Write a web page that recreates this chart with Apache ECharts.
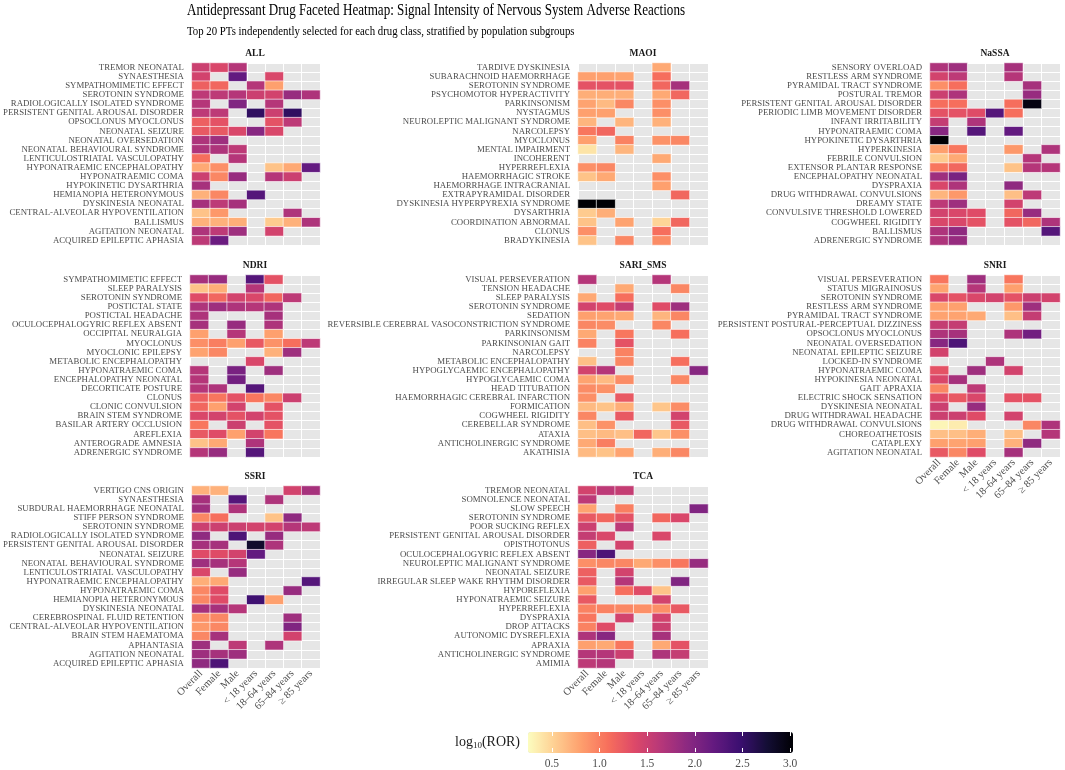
<!DOCTYPE html>
<html>
<head>
<meta charset="utf-8">
<title>Antidepressant Drug Faceted Heatmap</title>
<script src="https://cdn.jsdelivr.net/npm/echarts@6.0.0/dist/echarts.min.js"></script>
<style>
  html, body { margin: 0; padding: 0; background: #fff; }
  #main { width: 1065px; height: 770px; }
</style>
</head>
<body>
<div id="main"></div>
<script>
// 缺失值（灰色格子）
const _ = null;

const groups = ['Overall', 'Female', 'Male', '< 18 years', '18–64 years', '65–84 years', '≥ 85 years'];

const allTerms = ['TREMOR NEONATAL', 'SYNAESTHESIA', 'SYMPATHOMIMETIC EFFECT', 'SEROTONIN SYNDROME', 'RADIOLOGICALLY ISOLATED SYNDROME', 'PERSISTENT GENITAL AROUSAL DISORDER', 'OPSOCLONUS MYOCLONUS', 'NEONATAL SEIZURE', 'NEONATAL OVERSEDATION', 'NEONATAL BEHAVIOURAL SYNDROME', 'LENTICULOSTRIATAL VASCULOPATHY', 'HYPONATRAEMIC ENCEPHALOPATHY', 'HYPONATRAEMIC COMA', 'HYPOKINETIC DYSARTHRIA', 'HEMIANOPIA HETERONYMOUS', 'DYSKINESIA NEONATAL', 'CENTRAL-ALVEOLAR HYPOVENTILATION', 'BALLISMUS', 'AGITATION NEONATAL', 'ACQUIRED EPILEPTIC APHASIA'];
const allValues = [
  [1.5, 1.4, 1.65, _, _, _, _],
  [1.45, _, 2.2, _, 1.4, _, _],
  [1.2, 1.15, _, 1.65, 0.8, _, _],
  [1.6, 1.6, 1.65, 1.5, 1.45, 1.85, 1.7],
  [1.65, _, 2.0, _, 1.65, _, _],
  [1.6, 1.6, _, 2.55, 1.5, 2.55, _],
  [1.2, 1.3, _, _, 1.3, 1.6, _],
  [1.25, 1.25, 1.4, 1.95, 1.4, _, _],
  [1.7, 1.8, _, _, _, _, _],
  [1.7, 1.7, 1.6, _, _, _, _],
  [1.1, _, 1.65, _, _, _, _],
  [0.75, 0.9, _, _, 0.6, 0.75, 2.2],
  [1.5, 0.95, 1.85, _, 1.65, 1.5, _],
  [1.75, _, _, _, _, _, _],
  [0.7, 0.95, _, 2.3, _, _, _],
  [1.75, 1.6, 1.75, _, _, _, _],
  [0.6, 0.85, _, _, _, 1.7, _],
  [0.7, 0.7, 0.72, _, 0.55, 0.7, 1.7],
  [1.7, 1.6, 1.8, _, 1.45, _, _],
  [1.6, 2.15, _, _, _, _, _]
];

const maoiTerms = ['TARDIVE DYSKINESIA', 'SUBARACHNOID HAEMORRHAGE', 'SEROTONIN SYNDROME', 'PSYCHOMOTOR HYPERACTIVITY', 'PARKINSONISM', 'NYSTAGMUS', 'NEUROLEPTIC MALIGNANT SYNDROME', 'NARCOLEPSY', 'MYOCLONUS', 'MENTAL IMPAIRMENT', 'INCOHERENT', 'HYPERREFLEXIA', 'HAEMORRHAGIC STROKE', 'HAEMORRHAGE INTRACRANIAL', 'EXTRAPYRAMIDAL DISORDER', 'DYSKINESIA HYPERPYREXIA SYNDROME', 'DYSARTHRIA', 'COORDINATION ABNORMAL', 'CLONUS', 'BRADYKINESIA'];
const maoiValues = [
  [_, _, _, _, 0.75, _, _],
  [0.8, 0.8, 0.78, _, 1.1, _, _],
  [1.3, 1.3, 1.3, _, 1.15, 1.75, _],
  [0.72, 0.72, 0.72, _, 0.75, 1.15, _],
  [0.78, 0.65, 0.95, _, 0.9, _, _],
  [0.8, 0.8, _, _, 0.9, _, _],
  [0.68, _, 0.68, _, 0.7, _, _],
  [1.05, 1.15, _, _, _, _, _],
  [0.8, _, 0.98, _, 0.88, 0.95, _],
  [0.4, _, 0.68, _, _, _, _],
  [_, _, _, _, 0.75, _, _],
  [0.9, 0.95, _, _, _, _, _],
  [0.6, 0.75, _, _, 0.9, _, _],
  [_, _, _, _, 0.8, _, _],
  [_, _, _, _, _, 1.15, _],
  [3.05, 3.05, _, _, _, _, _],
  [0.55, 0.72, _, _, _, _, _],
  [0.6, _, 0.78, _, 0.5, 1.15, _],
  [0.9, _, _, _, 1.1, _, _],
  [0.6, _, 0.95, _, 0.92, _, _]
];

const nassaTerms = ['SENSORY OVERLOAD', 'RESTLESS ARM SYNDROME', 'PYRAMIDAL TRACT SYNDROME', 'POSTURAL TREMOR', 'PERSISTENT GENITAL AROUSAL DISORDER', 'PERIODIC LIMB MOVEMENT DISORDER', 'INFANT IRRITABILITY', 'HYPONATRAEMIC COMA', 'HYPOKINETIC DYSARTHRIA', 'HYPERKINESIA', 'FEBRILE CONVULSION', 'EXTENSOR PLANTAR RESPONSE', 'ENCEPHALOPATHY NEONATAL', 'DYSPRAXIA', 'DRUG WITHDRAWAL CONVULSIONS', 'DREAMY STATE', 'CONVULSIVE THRESHOLD LOWERED', 'COGWHEEL RIGIDITY', 'BALLISMUS', 'ADRENERGIC SYNDROME'];
const nassaValues = [
  [1.7, 1.8, _, _, 1.75, _, _],
  [1.45, 1.6, _, _, 1.65, _, _],
  [0.9, 1.1, _, _, _, 1.75, _],
  [1.5, 1.7, _, _, _, 1.85, _],
  [1.1, 1.1, _, _, 1.1, 2.95, _],
  [1.3, 1.3, 1.35, 2.3, 1.1, _, _],
  [1.55, _, 1.7, _, _, _, _],
  [1.95, _, 2.3, _, 2.2, _, _],
  [3.05, _, _, _, _, _, _],
  [0.8, 1.05, _, _, 0.85, _, 1.7],
  [0.55, 0.75, _, _, _, 1.65, _],
  [1.05, 1.15, _, _, 0.6, 1.65, 1.65],
  [1.8, 2.05, _, _, _, _, _],
  [1.4, 1.7, _, _, 1.9, _, _],
  [0.68, 0.85, _, _, 0.62, 1.6, _],
  [1.6, 1.8, _, _, 1.45, _, _],
  [1.45, 1.4, 1.35, _, 1.15, 1.85, _],
  [1.4, 1.4, 1.3, _, 1.3, 1.15, 1.7],
  [1.7, 1.9, _, _, _, _, 2.3],
  [1.7, 1.85, _, _, _, _, _]
];

const ndriTerms = ['SYMPATHOMIMETIC EFFECT', 'SLEEP PARALYSIS', 'SEROTONIN SYNDROME', 'POSTICTAL STATE', 'POSTICTAL HEADACHE', 'OCULOCEPHALOGYRIC REFLEX ABSENT', 'OCCIPITAL NEURALGIA', 'MYOCLONUS', 'MYOCLONIC EPILEPSY', 'METABOLIC ENCEPHALOPATHY', 'HYPONATRAEMIC COMA', 'ENCEPHALOPATHY NEONATAL', 'DECORTICATE POSTURE', 'CLONUS', 'CLONIC CONVULSION', 'BRAIN STEM SYNDROME', 'BASILAR ARTERY OCCLUSION', 'AREFLEXIA', 'ANTEROGRADE AMNESIA', 'ADRENERGIC SYNDROME'];
const ndriValues = [
  [1.75, 1.85, _, 2.3, 1.3, _, _],
  [0.6, 0.72, _, 1.65, _, _, _],
  [1.35, 1.15, 1.45, 1.4, 1.15, 1.6, _],
  [1.7, 1.8, 1.7, 1.65, 1.7, _, _],
  [1.7, _, _, _, 1.75, _, _],
  [1.75, _, 1.85, _, 1.7, _, _],
  [0.8, _, 1.65, _, 0.8, _, _],
  [0.9, 1.0, 0.8, 1.25, 0.88, 1.1, 1.6],
  [0.78, 0.95, _, _, 0.7, 1.8, _],
  [_, _, _, 1.4, _, _, _],
  [1.65, _, 2.05, _, 1.8, _, _],
  [1.65, _, 2.1, _, _, _, _],
  [1.65, 1.7, _, 2.3, _, _, _],
  [1.2, 1.05, 1.3, 1.05, 0.95, 1.5, _],
  [1.15, 0.8, 1.45, _, 1.3, _, _],
  [1.4, 1.45, 1.3, 1.45, 1.3, _, _],
  [1.05, _, 1.5, _, 1.3, _, _],
  [1.25, 1.35, 0.8, 1.45, 1.05, _, _],
  [0.6, 0.75, _, 1.7, _, _, _],
  [1.65, 1.85, _, 2.3, _, _, _]
];

const sariTerms = ['VISUAL PERSEVERATION', 'TENSION HEADACHE', 'SLEEP PARALYSIS', 'SEROTONIN SYNDROME', 'SEDATION', 'REVERSIBLE CEREBRAL VASOCONSTRICTION SYNDROME', 'PARKINSONISM', 'PARKINSONIAN GAIT', 'NARCOLEPSY', 'METABOLIC ENCEPHALOPATHY', 'HYPOGLYCAEMIC ENCEPHALOPATHY', 'HYPOGLYCAEMIC COMA', 'HEAD TITUBATION', 'HAEMORRHAGIC CEREBRAL INFARCTION', 'FORMICATION', 'COGWHEEL RIGIDITY', 'CEREBELLAR SYNDROME', 'ATAXIA', 'ANTICHOLINERGIC SYNDROME', 'AKATHISIA'];
const sariValues = [
  [1.65, _, _, _, 1.65, _, _],
  [_, _, 0.75, _, _, 0.95, _],
  [0.75, _, 1.1, _, _, _, _],
  [1.45, 1.35, 1.55, _, 1.35, 1.8, _],
  [0.8, 0.78, 0.75, _, 0.68, 0.95, _],
  [0.95, 0.92, _, _, 0.95, _, _],
  [0.75, _, 1.05, _, _, 1.1, _],
  [0.98, _, 1.3, _, _, _, _],
  [_, _, 0.98, _, _, _, _],
  [0.62, _, 0.95, _, _, 1.1, _],
  [1.45, 1.65, _, _, _, _, 1.95],
  [0.78, 0.65, 0.92, _, _, 0.95, _],
  [0.92, 0.88, _, _, _, _, _],
  [0.9, _, 1.25, _, _, _, _],
  [0.65, 0.6, 0.72, _, 0.58, 0.92, _],
  [0.95, _, 1.25, _, _, 1.45, _],
  [0.62, 0.88, _, _, _, 1.25, _],
  [0.62, 0.65, 0.62, 1.15, 0.58, 0.9, _],
  [0.75, 1.0, _, _, _, _, _],
  [0.65, 0.6, 0.78, _, 0.72, 0.95, _]
];

const snriTerms = ['VISUAL PERSEVERATION', 'STATUS MIGRAINOSUS', 'SEROTONIN SYNDROME', 'RESTLESS ARM SYNDROME', 'PYRAMIDAL TRACT SYNDROME', 'PERSISTENT POSTURAL-PERCEPTUAL DIZZINESS', 'OPSOCLONUS MYOCLONUS', 'NEONATAL OVERSEDATION', 'NEONATAL EPILEPTIC SEIZURE', 'LOCKED-IN SYNDROME', 'HYPONATRAEMIC COMA', 'HYPOKINESIA NEONATAL', 'GAIT APRAXIA', 'ELECTRIC SHOCK SENSATION', 'DYSKINESIA NEONATAL', 'DRUG WITHDRAWAL HEADACHE', 'DRUG WITHDRAWAL CONVULSIONS', 'CHOREOATHETOSIS', 'CATAPLEXY', 'AGITATION NEONATAL'];
const snriValues = [
  [1.05, _, 1.8, _, 1.05, _, _],
  [0.78, _, 1.65, _, 0.8, _, _],
  [1.4, 1.3, 1.4, 1.45, 1.3, 1.5, 1.45],
  [0.8, 0.8, _, _, 0.85, 1.8, _],
  [0.78, 0.78, 0.75, _, 0.62, 1.55, _],
  [1.55, 1.55, _, _, _, _, _],
  [1.7, 1.75, _, _, 1.7, 2.1, _],
  [1.95, 2.35, _, _, _, _, _],
  [1.45, _, _, _, _, _, _],
  [_, _, _, 1.7, _, _, _],
  [1.3, _, 1.8, _, 1.45, _, _],
  [1.4, 1.75, _, _, _, _, _],
  [0.95, _, 1.6, _, _, _, _],
  [1.35, 1.25, 1.4, _, 1.3, 1.3, _],
  [1.5, _, 1.85, _, _, _, _],
  [1.5, 1.5, 1.35, _, 1.45, _, _],
  [0.3, 0.35, _, _, _, 0.95, 1.7],
  [0.62, 0.62, 0.72, _, 0.62, _, 1.65],
  [0.8, 0.78, 0.8, _, 0.7, 1.9, _],
  [1.25, 0.95, 1.35, _, 1.75, _, _]
];

const ssriTerms = ['VERTIGO CNS ORIGIN', 'SYNAESTHESIA', 'SUBDURAL HAEMORRHAGE NEONATAL', 'STIFF PERSON SYNDROME', 'SEROTONIN SYNDROME', 'RADIOLOGICALLY ISOLATED SYNDROME', 'PERSISTENT GENITAL AROUSAL DISORDER', 'NEONATAL SEIZURE', 'NEONATAL BEHAVIOURAL SYNDROME', 'LENTICULOSTRIATAL VASCULOPATHY', 'HYPONATRAEMIC ENCEPHALOPATHY', 'HYPONATRAEMIC COMA', 'HEMIANOPIA HETERONYMOUS', 'DYSKINESIA NEONATAL', 'CEREBROSPINAL FLUID RETENTION', 'CENTRAL-ALVEOLAR HYPOVENTILATION', 'BRAIN STEM HAEMATOMA', 'APHANTASIA', 'AGITATION NEONATAL', 'ACQUIRED EPILEPTIC APHASIA'];
const ssriValues = [
  [0.7, 0.7, _, _, _, 1.45, 1.75],
  [1.75, _, 2.3, _, 1.7, _, _],
  [1.8, _, 1.7, _, _, _, _],
  [0.95, 1.1, _, _, 0.6, 1.9, _],
  [1.5, 1.5, 1.5, 1.45, 1.45, 1.65, 1.6],
  [1.9, _, 2.35, _, 1.85, _, _],
  [1.75, 1.75, _, 2.8, 1.7, _, _],
  [1.35, 1.35, 1.45, 2.2, _, _, _],
  [1.8, 1.75, 1.65, _, _, _, _],
  [1.4, _, 1.85, _, _, _, _],
  [0.72, 0.75, _, _, _, _, 2.3],
  [0.95, 1.35, _, _, _, 1.85, _],
  [0.95, 1.35, _, 2.45, 0.8, _, _],
  [1.75, 1.75, 1.65, _, _, _, _],
  [0.9, 0.95, _, _, _, 1.8, _],
  [0.85, 0.95, _, _, _, 2.0, _],
  [0.95, 1.75, _, _, _, 1.45, _],
  [1.8, _, 1.6, _, 1.7, _, _],
  [1.8, 1.75, 1.8, _, _, _, _],
  [1.9, 2.35, _, _, _, _, _]
];

const tcaTerms = ['TREMOR NEONATAL', 'SOMNOLENCE NEONATAL', 'SLOW SPEECH', 'SEROTONIN SYNDROME', 'POOR SUCKING REFLEX', 'PERSISTENT GENITAL AROUSAL DISORDER', 'OPISTHOTONUS', 'OCULOCEPHALOGYRIC REFLEX ABSENT', 'NEUROLEPTIC MALIGNANT SYNDROME', 'NEONATAL SEIZURE', 'IRREGULAR SLEEP WAKE RHYTHM DISORDER', 'HYPOREFLEXIA', 'HYPONATRAEMIC SEIZURE', 'HYPERREFLEXIA', 'DYSPRAXIA', 'DROP ATTACKS', 'AUTONOMIC DYSREFLEXIA', 'APRAXIA', 'ANTICHOLINERGIC SYNDROME', 'AMIMIA'];
const tcaValues = [
  [1.45, 1.6, 1.55, _, _, _, _],
  [1.6, _, _, _, _, _, _],
  [0.78, _, 1.0, _, _, _, 2.0],
  [1.25, 1.15, 1.3, _, 1.15, 1.4, _],
  [1.5, _, 1.6, _, _, _, _],
  [1.55, 1.4, _, _, 1.4, _, _],
  [1.2, _, 1.45, _, _, _, _],
  [1.95, 2.35, _, _, _, _, _],
  [0.9, 0.95, 0.95, 0.75, 0.9, 1.05, 1.85],
  [1.2, _, 1.45, _, _, _, _],
  [1.25, _, 1.65, _, _, 2.0, _],
  [0.8, _, 1.1, 1.35, 0.6, _, _],
  [1.25, _, _, _, 1.45, _, _],
  [0.98, 0.98, 0.95, 0.9, 0.9, 1.25, _],
  [1.05, _, 1.45, _, 1.45, _, _],
  [0.98, 1.35, _, _, 1.5, _, _],
  [1.7, 1.95, _, _, 1.75, _, _],
  [0.8, 0.75, 1.05, _, 0.75, 1.3, _],
  [1.65, 1.65, 1.5, _, 1.7, 1.55, _],
  [1.6, 1.65, _, _, _, _, _]
];

// 色带刻度
const legendTicks = [0.5, 1.0, 1.5, 2.0, 2.5, 3.0];
const rorMin = 0.25;
const rorMax = 3.03;

// magma（反向）
const magmaRev = ['#fcfdbf', '#fecf92', '#fe9f6d', '#f7705c', '#de4968', '#b73779', '#8c2981', '#641a80', '#3b0f70', '#140e36', '#000004'];

const serif = '"Liberation Serif", "DejaVu Serif", serif';

// 分面顺序与位置
const panels = [
  { name: 'ALL', terms: allTerms, values: allValues, col: 0, row: 0, xLabel: false },
  { name: 'MAOI', terms: maoiTerms, values: maoiValues, col: 1, row: 0, xLabel: false },
  { name: 'NaSSA', terms: nassaTerms, values: nassaValues, col: 2, row: 0, xLabel: false },
  { name: 'NDRI', terms: ndriTerms, values: ndriValues, col: 0, row: 1, xLabel: false },
  { name: 'SARI_SMS', terms: sariTerms, values: sariValues, col: 1, row: 1, xLabel: false },
  { name: 'SNRI', terms: snriTerms, values: snriValues, col: 2, row: 1, xLabel: true },
  { name: 'SSRI', terms: ssriTerms, values: ssriValues, col: 0, row: 2, xLabel: true },
  { name: 'TCA', terms: tcaTerms, values: tcaValues, col: 1, row: 2, xLabel: true }
];
const colLeft = [190, 578, 930];
const rowTop = [63, 275, 486];
const cellW = 130;
const cellH = 182;

var grid = [];
var xAxis = [];
var yAxis = [];
var series = [];
var graphic = [];

panels.forEach(function (p, i) {
  let left = colLeft[p.col];
  let top = rowTop[p.row];
  grid.push({
    left: left, top: top, width: cellW, height: cellH,
    show: true, backgroundColor: '#E6E6E6', borderWidth: 0
  });
  xAxis.push({
    type: 'category', gridIndex: i, data: groups,
    axisLine: { show: false }, axisTick: { show: false },
    splitLine: { show: true, lineStyle: { color: '#ffffff', width: 1 } },
    axisLabel: {
      show: p.xLabel, rotate: 45, interval: 0, margin: 4,
      fontSize: 10.5, color: '#4D4D4D', fontFamily: serif
    }
  });
  yAxis.push({
    type: 'category', gridIndex: i, data: p.terms, inverse: true,
    axisLine: { show: false }, axisTick: { show: false },
    splitLine: { show: true, lineStyle: { color: '#ffffff', width: 1 } },
    axisLabel: { interval: 0, margin: 8, fontSize: 8.8, color: '#4D4D4D', fontFamily: serif }
  });
  let cells = [];
  p.values.forEach(function (row, r) {
    row.forEach(function (v, c) {
      if (v !== null) cells.push([c, r, v]);
    });
  });
  series.push({
    name: p.name, type: 'heatmap', xAxisIndex: i, yAxisIndex: i,
    data: cells,
    itemStyle: { borderColor: '#ffffff', borderWidth: 0.6 },
    emphasis: { disabled: true }
  });
  // 分面标题
  graphic.push({
    type: 'text', x: left + cellW / 2, y: top - 14,
    style: {
      text: p.name, textAlign: 'center',
      font: 'bold 9.5px ' + serif, fill: '#1A1A1A'
    }
  });
});

// 色带刻度所用坐标系
grid.push({ left: 528, top: 732, width: 265, height: 21, show: false });
xAxis.push({
  type: 'value', gridIndex: 8, min: rorMin, max: rorMax, position: 'bottom', z: 10,
  axisLine: { show: false }, splitLine: { show: false },
  axisTick: { show: true, inside: true, length: 4, customValues: legendTicks, lineStyle: { color: '#ffffff', width: 1 } },
  axisLabel: { show: true, customValues: legendTicks, margin: 6, fontSize: 11.5, color: '#4D4D4D', fontFamily: serif,
    formatter: function (v) { return v.toFixed(1); } }
});
xAxis.push({
  type: 'value', gridIndex: 8, min: rorMin, max: rorMax, position: 'top', z: 10,
  axisLine: { show: false }, splitLine: { show: false },
  axisTick: { show: true, inside: true, length: 4, customValues: legendTicks, lineStyle: { color: '#ffffff', width: 1 } },
  axisLabel: { show: false }
});
yAxis.push({ type: 'value', gridIndex: 8, show: false });

// 总标题
graphic.push({
  type: 'text', x: 187, y: 2, scaleX: 0.77,
  style: { text: 'Antidepressant Drug Faceted Heatmap: Signal Intensity of Nervous System Adverse Reactions', font: '17px ' + serif, fill: '#000000' }
});
graphic.push({
  type: 'text', x: 187, y: 24, scaleX: 0.8,
  style: { text: 'Top 20 PTs independently selected for each drug class, stratified by population subgroups', font: '13.5px ' + serif, fill: '#000000' }
});
// 图例标题
graphic.push({
  type: 'text', x: 455, y: 735,
  style: {
    text: 'log{s|10}(ROR)', font: '14px ' + serif, fill: '#1A1A1A',
    rich: { s: { fontSize: 9, fontFamily: serif, fill: '#1A1A1A', padding: [6, 0, 0, 0] } }
  }
});

var option = {
  backgroundColor: '#ffffff',
  animation: false,
  grid: grid,
  xAxis: xAxis,
  yAxis: yAxis,
  visualMap: {
    type: 'continuous', min: rorMin, max: rorMax,
    orient: 'horizontal', left: 528, top: 732, padding: 0,
    itemWidth: 21, itemHeight: 265,
    calculable: false, hoverLink: false, text: null,
    seriesIndex: [0, 1, 2, 3, 4, 5, 6, 7],
    inRange: { color: magmaRev }
  },
  graphic: graphic,
  series: series
};

var chart = echarts.init(document.getElementById('main'), null, { renderer: 'canvas' });
chart.setOption(option);
</script>
</body>
</html>
